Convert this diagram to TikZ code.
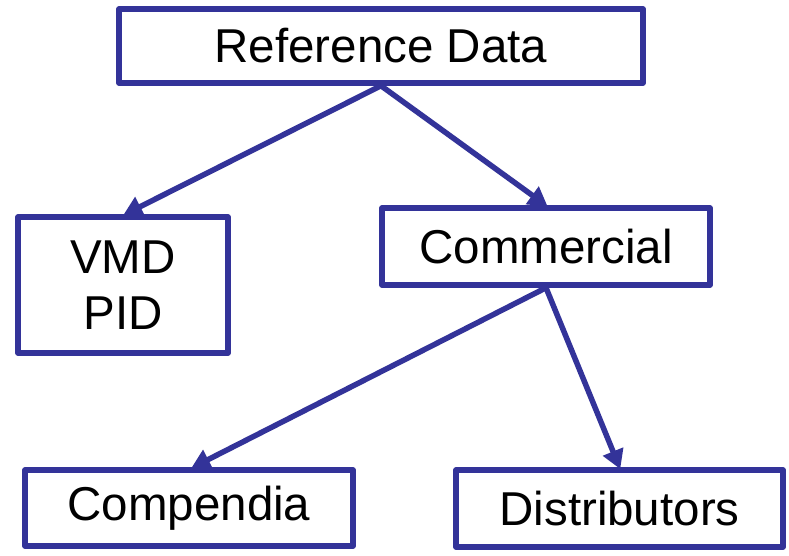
\documentclass[tikz,border=0pt]{standalone}
\usepackage{fontspec}
\setmainfont{Liberation Sans}
\usetikzlibrary{arrows.meta}
\definecolor{boxblue}{RGB}{51,51,153}
\begin{document}
\begin{tikzpicture}[x=1pt,y=-1pt,
  box/.style={draw=boxblue, line width=5.5pt, line join=round, fill=white, inner sep=0pt,
    font=\fontsize{47.5}{56}\selectfont, align=center},
  link/.style={draw=boxblue, line width=5.5pt,
    -{Triangle[length=19pt,width=21pt]}, shorten >=-2pt}]
  \useasboundingbox[fill=white] (0,0) rectangle (789,555);
  \node[box, minimum width=524pt, minimum height=74pt] (ref) at (381,46) {Reference Data};
  \node[box, minimum width=210pt, minimum height=136pt] (vmd) at (123,285) {VMD\\PID};
  \node[box, minimum width=328pt, minimum height=77pt] (com) at (546,246.5) {Commercial};
  \node[box, minimum width=328pt, minimum height=76pt] (cmp) at (189,508) {Compendia};
  \node[box, minimum width=327pt, minimum height=77pt] (dis) at (619.5,508.5) {Distributors};
  \draw[link] (ref.south) -- ([xshift=2pt]vmd.north);
  \draw[link] (ref.south) -- (com.north);
  \draw[link] (com.south) -- ([xshift=4pt]cmp.north);
  \draw[link] (com.south) -- (dis.north);
\end{tikzpicture}
\end{document}
